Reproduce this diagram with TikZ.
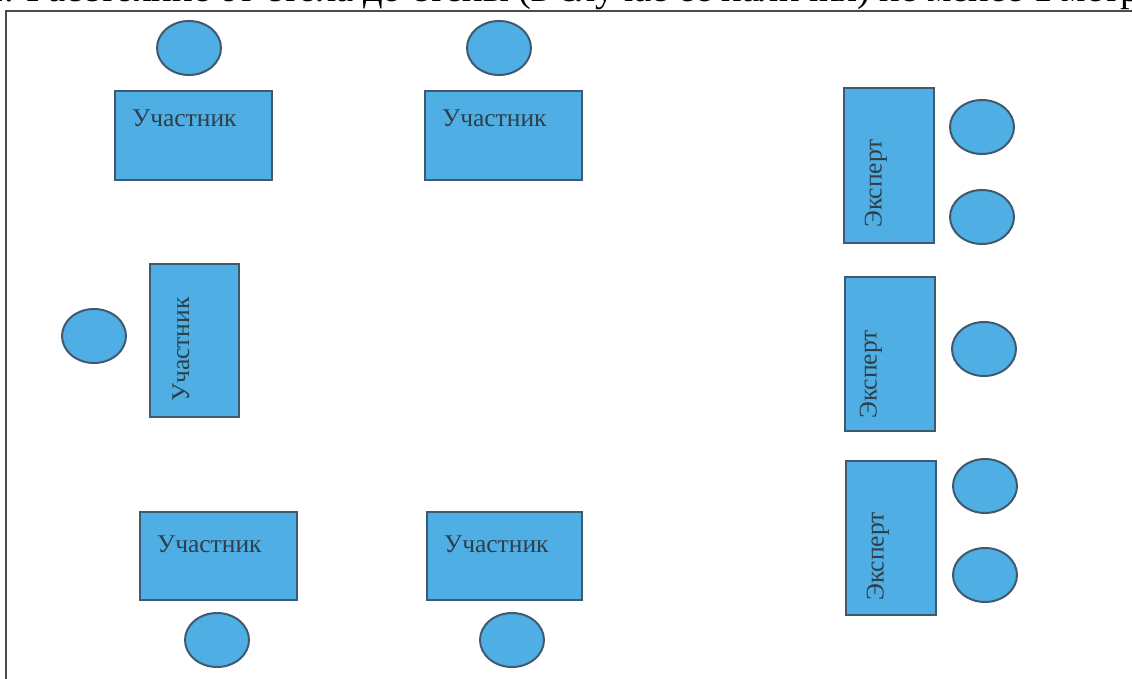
\documentclass[tikz,border=0pt]{standalone}
\usepackage{fontspec}
\setmainfont{Liberation Serif}
\usetikzlibrary{shapes.geometric}
\definecolor{fillb}{HTML}{4FAEE3}
\definecolor{edge}{HTML}{3F5A70}
\definecolor{ink}{HTML}{2F3F4A}
\tikzset{x=1pt,y=-1pt,
 tbl/.style={draw=edge,fill=fillb,line width=2pt,inner sep=0pt},
 seat/.style={ellipse,draw=edge,fill=fillb,line width=2pt,inner sep=0pt,minimum width=64pt,minimum height=54pt},
 lbl/.style={text=ink,font=\fontsize{25.5}{28}\selectfont,inner sep=0pt,anchor=west}}
\begin{document}
\begin{tikzpicture}
\useasboundingbox (0,0) rectangle (1132,679);
\draw[draw=black!70,line width=2pt] (6,679) -- (6,11) -- (1132,11);
\node[text=black,font=\fontsize{38.5}{41}\selectfont,anchor=base west,inner sep=0pt] (head) at (-33,1.5) {11. Расстояние от стола до стены (в случае ее наличия) не менее 1 метра};
\node[seat] (s1) at (189,48) {};
\node[seat] (s2) at (499,48) {};
\node[seat] (s3) at (94,336) {};
\node[seat] (s4) at (217,640) {};
\node[seat] (s5) at (512,640) {};
\node[seat] (s6) at (982,127) {};
\node[seat] (s7) at (982,217) {};
\node[seat] (s8) at (984,349) {};
\node[seat] (s9) at (985,486) {};
\node[seat] (s10) at (985,575) {};
\node[tbl,minimum width=157pt,minimum height=89pt] (t1) at (193.5,135.5) {};
\node[tbl,minimum width=157pt,minimum height=89pt] (t2) at (503.5,135.5) {};
\node[tbl,minimum width=89pt,minimum height=153pt] (t3) at (194.5,340.5) {};
\node[tbl,minimum width=157pt,minimum height=88pt] (t4) at (218.5,556) {};
\node[tbl,minimum width=155pt,minimum height=88pt] (t5) at (504.5,556) {};
\node[tbl,minimum width=90pt,minimum height=155pt] (t6) at (889,165.5) {};
\node[tbl,minimum width=90pt,minimum height=154pt] (t7) at (890,354) {};
\node[tbl,minimum width=90pt,minimum height=154pt] (t8) at (891,538) {};
\node[lbl] (l1) at (132,118) {Участник};
\node[lbl] (l2) at (442,118) {Участник};
\node[lbl,rotate=90] (l3) at (181,402) {Участник};
\node[lbl] (l4) at (157,544) {Участник};
\node[lbl] (l5) at (444,544) {Участник};
\node[lbl,rotate=90] (l6) at (876,228) {Эксперт};
\node[lbl,rotate=90] (l7) at (871,419) {Эксперт};
\node[lbl,rotate=90] (l8) at (878,601) {Эксперт};
\end{tikzpicture}
\end{document}
